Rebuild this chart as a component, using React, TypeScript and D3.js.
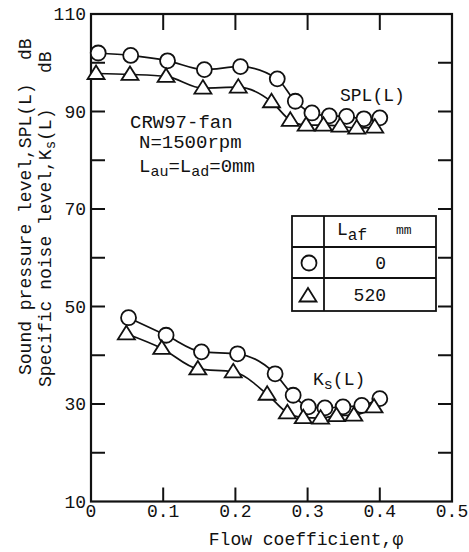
import React from "react";
import * as d3 from "d3";

// Data
const splCircleX = [0.010, 0.055, 0.106, 0.157, 0.207, 0.258, 0.283, 0.306, 0.330, 0.354, 0.378, 0.400];
const splCircleY = [102.0, 101.5, 100.4, 98.6, 99.2, 96.7, 92.1, 89.7, 89.1, 89.0, 88.5, 88.7];
const splTriX = [0.007, 0.054, 0.104, 0.155, 0.204, 0.250, 0.276, 0.298, 0.322, 0.345, 0.368, 0.393];
const splTriY = [97.8, 97.6, 97.2, 94.8, 95.0, 92.0, 88.2, 87.2, 87.2, 87.0, 86.6, 86.8];
const ksCircleX = [0.052, 0.104, 0.153, 0.203, 0.255, 0.280, 0.301, 0.324, 0.349, 0.375, 0.400];
const ksCircleY = [47.7, 44.1, 40.7, 40.3, 36.2, 31.8, 29.4, 29.2, 29.4, 29.7, 31.1];
const ksTriX = [0.049, 0.098, 0.148, 0.197, 0.244, 0.272, 0.294, 0.318, 0.340, 0.364, 0.392];
const ksTriY = [44.4, 41.4, 37.2, 36.6, 32.0, 28.2, 27.2, 27.1, 27.6, 27.7, 29.4];

const xTickValues = [0, 0.1, 0.2, 0.3, 0.4, 0.5];
const xTickLabels = ["0", "0.1", "0.2", "0.3", "0.4", "0.5"];
const yTickValues = [10, 20, 30, 40, 50, 60, 70, 80, 90, 100, 110];
const yLabelValues = [10, 30, 50, 70, 90, 110];

const legendHeader = "mm";
const legendRows = ["0", "520"];

const W = 469;
const H = 552;
const left = 91, right = 452, top = 14, bottom = 501.5;
const FONT = "'Liberation Mono', 'DejaVu Sans Mono', monospace";
const INK = "#111";

const x = d3.scaleLinear().domain([0, 0.5]).range([left, right]);
const y = d3.scaleLinear().domain([10, 110]).range([bottom, top]);

const line = d3
  .line<[number, number]>()
  .x((d) => x(d[0]))
  .y((d) => y(d[1]))
  .curve(d3.curveMonotoneX);

const zip = (xs: number[], ys: number[]): [number, number][] => xs.map((v, i) => [v, ys[i]]);

const triPath = "M0,-8 L8.5,5.5 L-8.5,5.5 Z";

function Circles({ pts }: { pts: [number, number][] }) {
  return (
    <g>
      {pts.map((p, i) => (
        <circle key={i} cx={x(p[0])} cy={y(p[1])} r={7.5} fill="#fff" stroke={INK} strokeWidth={1.8} />
      ))}
    </g>
  );
}
function Triangles({ pts }: { pts: [number, number][] }) {
  return (
    <g>
      {pts.map((p, i) => (
        <path key={i} d={triPath} transform={`translate(${x(p[0])},${y(p[1])})`} fill="#fff" stroke={INK} strokeWidth={1.8} strokeLinejoin="miter" />
      ))}
    </g>
  );
}

export default function App() {
  const sC = zip(splCircleX, splCircleY);
  const sT = zip(splTriX, splTriY);
  const kC = zip(ksCircleX, ksCircleY);
  const kT = zip(ksTriX, ksTriY);
  const tickLen = 14;
  return (
    <svg width={W} height={H} style={{ position: "absolute", left: 0, top: 0, background: "#fff" }} fontFamily={FONT} fill={INK}>
      {/* frame */}
      <rect x={left} y={top} width={right - left} height={bottom - top} fill="none" stroke={INK} strokeWidth={2.2} />
      {/* ticks */}
      {xTickValues.slice(1, -1).map((v) => (
        <g key={"xt" + v}>
          <line x1={x(v)} x2={x(v)} y1={bottom} y2={bottom - tickLen} stroke={INK} strokeWidth={2} />
          <line x1={x(v)} x2={x(v)} y1={top} y2={top + tickLen + 2} stroke={INK} strokeWidth={2} />
        </g>
      ))}
      {yTickValues.slice(1, -1).map((v) => (
        <g key={"yt" + v}>
          <line x1={left} x2={left + tickLen} y1={y(v)} y2={y(v)} stroke={INK} strokeWidth={2} />
          <line x1={right} x2={right - tickLen} y1={y(v)} y2={y(v)} stroke={INK} strokeWidth={2} />
        </g>
      ))}
      {/* tick labels */}
      {xTickValues.map((v, i) => (
        <text key={"xl" + v} x={x(v)} y={517} fontSize={18} textAnchor="middle">
          {xTickLabels[i]}
        </text>
      ))}
      {yLabelValues.map((v) => (
        <text key={"yl" + v} x={86} y={y(v)} dy="0.35em" fontSize={18} textAnchor="end">
          {v}
        </text>
      ))}
      {/* axis titles */}
      <text x={306} y={545} fontSize={18} textAnchor="middle">
        Flow coefficient,φ
      </text>
      <g transform="translate(31,375) rotate(-90)" fontSize={18}>
        <text x={0} y={0}>Sound pressure level,SPL(L)</text>
        <text x={315} y={0}>dB</text>
      </g>
      <g transform="translate(51,387) rotate(-90)" fontSize={18}>
        <text x={0} y={0}>
          Specific noise level,K<tspan fontSize={14} dy={4}>s</tspan>
          <tspan dy={-4}>(L)</tspan>
        </text>
        <text x={314} y={0}>dB</text>
      </g>
      {/* lines */}
      {[sC, sT, kC, kT].map((d, i) => (
        <path key={"ln" + i} d={line(d) || ""} fill="none" stroke={INK} strokeWidth={1.7} />
      ))}
      <Circles pts={sC} />
      <Triangles pts={sT} />
      <Circles pts={kC} />
      <Triangles pts={kT} />
      {/* annotations */}
      <text x={130} y={128} fontSize={19}>CRW97-fan</text>
      <text x={139} y={148} fontSize={19}>N=1500rpm</text>
      <text x={139} y={172} fontSize={19}>
        L<tspan fontSize={15} dy={4}>au</tspan>
        <tspan dy={-4}>=L</tspan>
        <tspan fontSize={15} dy={4}>ad</tspan>
        <tspan dy={-4}>=0mm</tspan>
      </text>
      <text x={340} y={101} fontSize={18}>SPL(L)</text>
      <text x={313} y={385} fontSize={18}>
        K<tspan fontSize={15} dy={4}>s</tspan>
        <tspan dy={-4}>(L)</tspan>
      </text>
      {/* legend table */}
      <g>
        <rect x={292} y={216} width={144} height={95} fill="#fff" stroke={INK} strokeWidth={1.8} />
        <line x1={324} x2={324} y1={216} y2={311} stroke={INK} strokeWidth={1.8} />
        <line x1={292} x2={436} y1={247} y2={247} stroke={INK} strokeWidth={1.8} />
        <line x1={292} x2={436} y1={278} y2={278} stroke={INK} strokeWidth={1.8} />
        <text x={337} y={235} fontSize={18}>
          L<tspan fontSize={16} dy={5}>af</tspan>
        </text>
        <text x={396} y={234} fontSize={13}>{legendHeader}</text>
        <circle cx={309} cy={263} r={7.5} fill="#fff" stroke={INK} strokeWidth={1.8} />
        <path d={triPath} transform="translate(308,296)" fill="#fff" stroke={INK} strokeWidth={1.8} />
        <text x={386} y={269} fontSize={18} textAnchor="end">{legendRows[0]}</text>
        <text x={386} y={301} fontSize={18} textAnchor="end">{legendRows[1]}</text>
      </g>
    </svg>
  );
}
